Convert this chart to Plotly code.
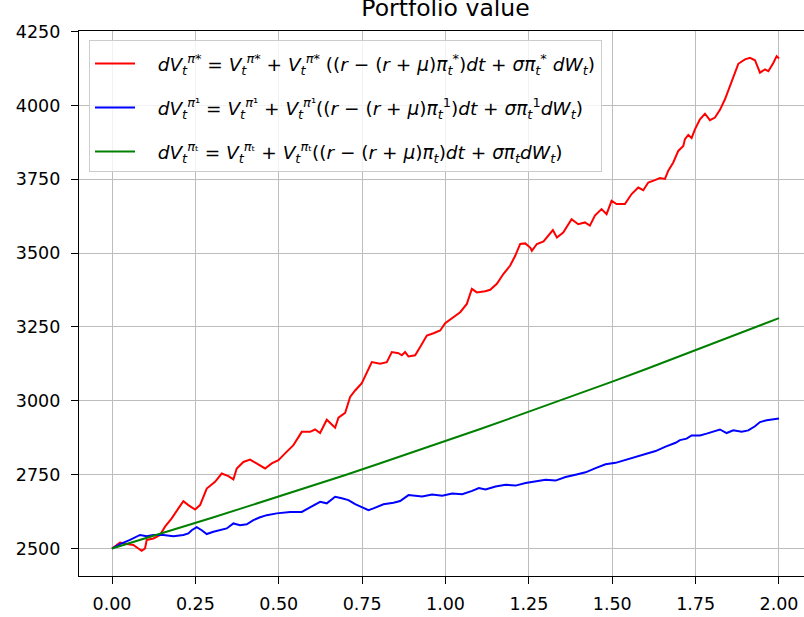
import plotly.graph_objects as go

# ---------------- data ----------------
red_t = [0.000, 0.024, 0.044, 0.064, 0.079, 0.089, 0.099, 0.104, 0.124, 0.144,
         0.159, 0.179, 0.199, 0.214, 0.229, 0.249, 0.264, 0.284, 0.309, 0.329,
         0.349, 0.364, 0.374, 0.394, 0.414, 0.434, 0.459, 0.479, 0.499, 0.519,
         0.544, 0.569, 0.594, 0.609, 0.624, 0.644, 0.654, 0.669, 0.679, 0.699,
         0.714, 0.729, 0.749, 0.764, 0.779, 0.804, 0.824, 0.839, 0.859, 0.869,
         0.879, 0.889, 0.909, 0.924, 0.944, 0.964, 0.984, 0.999, 1.024, 1.044,
         1.064, 1.079, 1.094, 1.119, 1.134, 1.154, 1.174, 1.194, 1.209, 1.224,
         1.239, 1.254, 1.259, 1.274, 1.294, 1.309, 1.322, 1.334, 1.353, 1.378,
         1.398, 1.418, 1.433, 1.448, 1.468, 1.483, 1.498, 1.513, 1.538, 1.558,
         1.578, 1.593, 1.608, 1.628, 1.643, 1.658, 1.668, 1.683, 1.698, 1.713,
         1.718, 1.728, 1.738, 1.748, 1.763, 1.778, 1.793, 1.808, 1.823, 1.838,
         1.853, 1.868, 1.878, 1.898, 1.913, 1.928, 1.943, 1.958, 1.968, 1.983,
         1.993, 2.000]
red_v = [2500, 2520, 2515, 2512, 2500, 2492, 2500, 2529, 2534, 2546,
         2574, 2602, 2636, 2660, 2647, 2632, 2647, 2703, 2726, 2754,
         2745, 2734, 2771, 2793, 2801, 2788, 2771, 2788, 2799, 2822,
         2850, 2895, 2895, 2903, 2891, 2936, 2925, 2909, 2943, 2959,
         3013, 3035, 3060, 3097, 3131, 3126, 3131, 3165, 3161, 3154,
         3165, 3150, 3154, 3182, 3221, 3229, 3238, 3263, 3283, 3300,
         3328, 3379, 3367, 3371, 3376, 3396, 3430, 3458, 3491, 3531,
         3533, 3519, 3508, 3531, 3540, 3559, 3578, 3553, 3570, 3615,
         3598, 3604, 3593, 3627, 3649, 3632, 3677, 3666, 3666, 3700,
         3722, 3713, 3739, 3747, 3754, 3751, 3779, 3807, 3846, 3863,
         3886, 3900, 3890, 3919, 3953, 3972, 3950, 3959, 3985, 4021,
         4066, 4117, 4141, 4156, 4161, 4153, 4111, 4122, 4116, 4144,
         4167, 4159]

blue_t = [0.000, 0.024, 0.054, 0.084, 0.104, 0.124, 0.154, 0.184, 0.214, 0.229,
          0.239, 0.254, 0.269, 0.284, 0.304, 0.324, 0.344, 0.364, 0.384, 0.404,
          0.424, 0.442, 0.464, 0.494, 0.534, 0.569, 0.599, 0.624, 0.644, 0.669,
          0.689, 0.709, 0.729, 0.749, 0.769, 0.784, 0.814, 0.844, 0.864, 0.889,
          0.930, 0.960, 0.990, 1.020, 1.050, 1.080, 1.100, 1.120, 1.150, 1.180,
          1.210, 1.240, 1.270, 1.300, 1.330, 1.360, 1.390, 1.420, 1.450, 1.480,
          1.510, 1.540, 1.570, 1.600, 1.630, 1.660, 1.690, 1.703, 1.723, 1.738,
          1.763, 1.783, 1.803, 1.823, 1.843, 1.863, 1.888, 1.908, 1.928, 1.943,
          1.963, 1.978, 2.000]
blue_v = [2500, 2515, 2529, 2546, 2542, 2546, 2546, 2542, 2546, 2551,
          2562, 2572, 2562, 2549, 2557, 2562, 2568, 2585, 2579, 2582,
          2596, 2605, 2613, 2619, 2624, 2624, 2644, 2658, 2653, 2675,
          2670, 2664, 2650, 2641, 2630, 2636, 2650, 2655, 2661, 2681,
          2676, 2683, 2679, 2686, 2684, 2695, 2705, 2700, 2710, 2716,
          2713, 2722, 2727, 2733, 2730, 2742, 2750, 2758, 2772, 2785,
          2790, 2800, 2812, 2820, 2830, 2845, 2858, 2867, 2872, 2883,
          2883, 2889, 2895, 2903, 2891, 2900, 2895, 2900, 2914, 2928,
          2934, 2936, 2940]

green_t = [0.0, 0.1, 0.2, 0.3, 0.4, 0.5, 0.6, 0.7, 0.8, 0.9, 1.0,
           1.1, 1.2, 1.3, 1.4, 1.5, 1.6, 1.7, 1.8, 1.9, 2.0]
green_v = [2500, 2534, 2569, 2604, 2640, 2676, 2712, 2749, 2787, 2825, 2864,
           2903, 2943, 2983, 3024, 3065, 3107, 3150, 3193, 3236, 3280]

x_ticks = [0.0, 0.25, 0.5, 0.75, 1.0, 1.25, 1.5, 1.75, 2.0]
y_ticks = [2500, 2750, 3000, 3250, 3500, 3750, 4000, 4250]

NB = "\u00a0"
lab_red = (NB * 3 + "<i>dV</i><sub><i>t</i></sub><sup><i>π</i>*</sup>" + NB + "= "
           "<i>V</i><sub><i>t</i></sub><sup><i>π</i>*</sup>" + NB + "+ "
           "<i>V</i><sub><i>t</i></sub><sup><i>π</i>*</sup>" + NB + "((<i>r</i> − (<i>r</i> + <i>μ</i>)"
           "<i>π</i><sub><i>t</i></sub><sup>*</sup>)<i>dt</i> + <i>σπ</i><sub><i>t</i></sub><sup>*</sup> "
           "<i>dW</i><sub><i>t</i></sub>)")
lab_blue = (NB * 3 + "<i>dV</i><sub><i>t</i></sub><sup><i>π</i>¹</sup>" + NB + "= "
            "<i>V</i><sub><i>t</i></sub><sup><i>π</i>¹</sup>" + NB + "+ "
            "<i>V</i><sub><i>t</i></sub><sup><i>π</i>¹</sup>((<i>r</i> − (<i>r</i> + <i>μ</i>)"
            "<i>π</i><sub><i>t</i></sub><sup>1</sup>)<i>dt</i> + <i>σπ</i><sub><i>t</i></sub><sup>1</sup>"
            "<i>dW</i><sub><i>t</i></sub>)")
lab_green = (NB * 3 + "<i>dV</i><sub><i>t</i></sub><sup><i>π</i>ₜ</sup> = "
             "<i>V</i><sub><i>t</i></sub><sup><i>π</i>ₜ</sup> + "
             "<i>V</i><sub><i>t</i></sub><sup><i>π</i>ₜ</sup>((<i>r</i> − (<i>r</i> + <i>μ</i>)"
             "<i>π</i><sub><i>t</i></sub>)<i>dt</i> + <i>σπ</i><sub><i>t</i></sub>"
             "<i>dW</i><sub><i>t</i></sub>)")

FONT = "DejaVu Sans"
W, H = 804, 617

fig = go.Figure()
fig.add_trace(go.Scatter(x=red_t, y=red_v, mode="lines", name=lab_red,
                         line=dict(color="#ff0000", width=2), legendgroup="a"))
fig.add_trace(go.Scatter(x=blue_t, y=blue_v, mode="lines", name=lab_blue,
                         line=dict(color="#0000ff", width=2), legendgroup="b"))
fig.add_trace(go.Scatter(x=green_t, y=green_v, mode="lines", name=lab_green,
                         line=dict(color="#008000", width=2), legendgroup="c"))

fig.update_layout(
    width=W, height=H,
    margin=dict(l=79, r=0, t=31, b=41, autoexpand=False),
    paper_bgcolor="white", plot_bgcolor="white",
    font=dict(family=FONT, size=17, color="black"),
    title=dict(text="Portfolio value", x=445.5 / W, xanchor="center",
               xref="container", yref="container", y=1, yanchor="top",
               font=dict(family=FONT, size=23.5, color="black")),
    showlegend=True,
    legend=dict(x=10 / 725, y=(576 - 40) / 545, xanchor="left", yanchor="top",
                bgcolor="rgba(255,255,255,0.8)", bordercolor="#cccccc", borderwidth=1,
                font=dict(family=FONT, size=18.5, color="black"),
                title=dict(text=NB, font=dict(size=3)),
                tracegroupgap=17, itemwidth=40),
    xaxis=dict(range=[-0.099, 2.075], tickmode="array", tickvals=x_ticks,
               tickformat=".2f", showgrid=True, gridcolor="#bdbdbd", gridwidth=1.2,
               zeroline=False, showline=True, linecolor="black", linewidth=1.2,
               mirror=True, ticks="outside", ticklen=7, tickcolor="black",
               automargin=False, ticklabelstandoff=5,
               tickfont=dict(family=FONT, size=17.5, color="black")),
    yaxis=dict(range=[2407, 4252], tickmode="array", tickvals=y_ticks,
               showgrid=True, gridcolor="#bdbdbd", gridwidth=1.2,
               zeroline=False, showline=True, linecolor="black", linewidth=1.2,
               mirror=False, ticks="outside", ticklen=7, tickcolor="black",
               automargin=False, ticklabelstandoff=7,
               tickfont=dict(family=FONT, size=17.5, color="black")),
)

fig.write_html("out.html", config={"displayModeBar": False},
               post_script="document.body.style.margin='0';document.body.style.overflow='hidden';")
